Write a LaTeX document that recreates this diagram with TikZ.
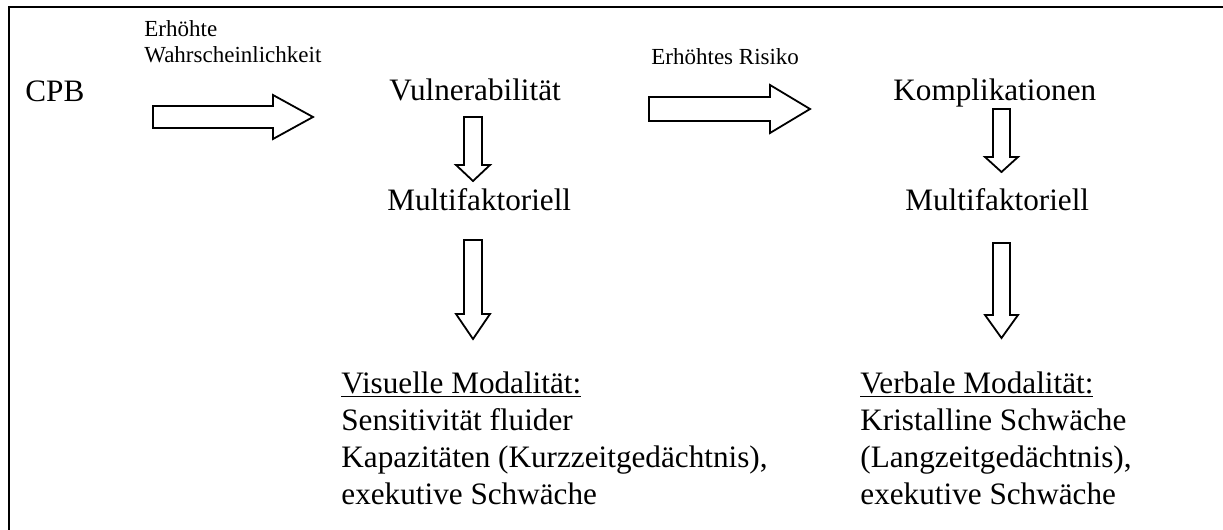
\documentclass[tikz,border=0pt]{standalone}
\usepackage{fontspec}
\setmainfont{Liberation Serif}
\tikzset{
  bigtxt/.style={font=\fontsize{15.6}{18.5}\selectfont, inner sep=0pt, anchor=base west},
  smalltxt/.style={font=\fontsize{11.5}{13}\selectfont, inner sep=0pt, anchor=base west},
  blockarrow/.style={draw, line width=0.9pt, line join=miter, fill=white},
  framestyle/.style={line width=1.1pt}
}
\begin{document}
\begin{tikzpicture}[x=0.5pt,y=-0.5pt]
\useasboundingbox (0,0) rectangle (1223,530);
% frame (only top and left sides visible)
\draw[framestyle] (9,530) -- (9,7) -- (1223,7);

% texts
\node[bigtxt] (cpb) at (25,101) {CPB};
\node[bigtxt] (vul) at (389,100) {Vulnerabilität};
\node[bigtxt] (kom) at (893,100) {Komplikationen};
\node[bigtxt] (mfl) at (387,210) {Multifaktoriell};
\node[bigtxt] (mfr) at (905,210) {Multifaktoriell};
\node[bigtxt] (vis) at (341,393) {\begin{tabular}[t]{@{}l@{}}\underline{Visuelle Modalität:}\\ Sensitivität fluider\\ Kapazitäten (Kurzzeitgedächtnis),\\ exekutive Schwäche\end{tabular}};
\node[bigtxt] (verb) at (860,393) {\begin{tabular}[t]{@{}l@{}}\underline{Verbale Modalität:}\\ Kristalline Schwäche\\ (Langzeitgedächtnis),\\ exekutive Schwäche\end{tabular}};
\node[smalltxt] (lbla) at (144,37) {\begin{tabular}[t]{@{}l@{}}Erhöhte\\ Wahrscheinlichkeit\end{tabular}};
\node[smalltxt] (lblb) at (651,64) {Erhöhtes Risiko};

% horizontal block arrows
\draw[blockarrow] (153,106) -- (273,106) -- (273,95) -- (313,117) -- (273,139) -- (273,128) -- (153,128) -- cycle;
\draw[blockarrow] (649,97) -- (770,97) -- (770,85) -- (810,109) -- (770,133) -- (770,121) -- (649,121) -- cycle;

% vertical block arrows, left column
\draw[blockarrow] (464,117) -- (482,117) -- (482,165) -- (490,165) -- (473,181) -- (456,165) -- (464,165) -- cycle;
\draw[blockarrow] (464,240) -- (482,240) -- (482,314) -- (490,314) -- (473,339) -- (456,314) -- (464,314) -- cycle;

% vertical block arrows, right column
\draw[blockarrow] (993,109) -- (1010,109) -- (1010,157) -- (1018,157) -- (1001.5,172) -- (985,157) -- (993,157) -- cycle;
\draw[blockarrow] (993,243) -- (1010,243) -- (1010,315) -- (1018,315) -- (1001.5,338) -- (985,315) -- (993,315) -- cycle;
\end{tikzpicture}
\end{document}
